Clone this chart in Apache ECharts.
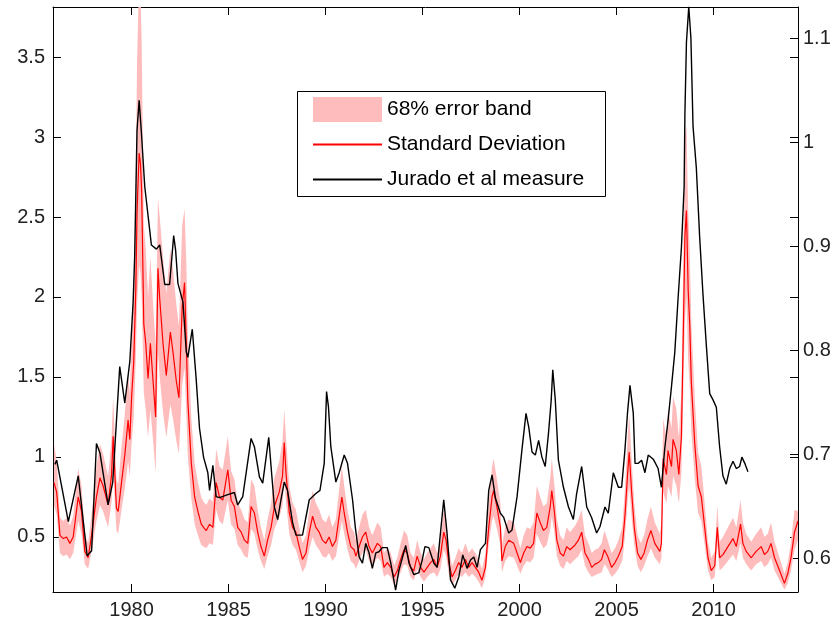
<!DOCTYPE html>
<html>
<head>
<meta charset="utf-8">
<script src="https://cdn.jsdelivr.net/npm/echarts/dist/echarts.min.js"></script>
<style>html,body{margin:0;padding:0;background:#fff;}#chart{width:837px;height:626px;}</style>
</head>
<body>
<div id="chart"></div>
<script>
// ---- Data ----
const xTicks = [1980, 1985, 1990, 1995, 2000, 2005, 2010];
const leftTicks = [0.5, 1, 1.5, 2, 2.5, 3, 3.5];
const rightTicks = [0.6, 0.7, 0.8, 0.9, 1.0, 1.1];

const sdDates = [1976.00,1976.14,1976.31,1976.48,1976.65,1976.82,1976.99,1977.25,1977.42,1977.59,1977.76,1977.94,1978.19,1978.37,1978.53,1978.79,1978.97,1979.05,1979.22,1979.31,1979.48,1979.65,1979.82,1979.91,1980.00,1980.11,1980.22,1980.28,1980.39,1980.46,1980.52,1980.63,1980.73,1980.85,1980.97,1981.11,1981.24,1981.36,1981.45,1981.62,1981.79,1982.00,1982.13,1982.31,1982.44,1982.61,1982.73,1982.82,1982.90,1983.08,1983.25,1983.42,1983.59,1983.71,1983.85,1984.02,1984.19,1984.36,1984.53,1984.70,1984.96,1985.13,1985.30,1985.47,1985.65,1985.82,1985.99,1986.16,1986.33,1986.50,1986.67,1986.84,1987.01,1987.19,1987.36,1987.61,1987.78,1987.87,1987.96,1988.13,1988.30,1988.47,1988.64,1988.81,1988.99,1989.16,1989.33,1989.50,1989.67,1989.84,1990.01,1990.18,1990.35,1990.53,1990.70,1990.84,1990.96,1991.13,1991.30,1991.47,1991.56,1991.73,1991.90,1992.07,1992.24,1992.41,1992.67,1992.84,1993.01,1993.18,1993.36,1993.53,1993.70,1993.87,1994.04,1994.21,1994.38,1994.55,1994.72,1994.90,1995.07,1995.24,1995.41,1995.58,1995.75,1995.92,1996.09,1996.21,1996.35,1996.52,1996.69,1996.86,1997.03,1997.21,1997.38,1997.55,1997.72,1997.89,1998.06,1998.24,1998.41,1998.58,1998.66,1998.83,1999.01,1999.09,1999.26,1999.44,1999.70,1999.87,2000.04,2000.21,2000.38,2000.55,2000.72,2000.89,2001.06,2001.23,2001.40,2001.58,2001.66,2001.80,2001.92,2002.09,2002.26,2002.43,2002.60,2002.86,2003.03,2003.20,2003.37,2003.55,2003.72,2003.89,2004.06,2004.23,2004.37,2004.54,2004.74,2004.92,2005.09,2005.29,2005.43,2005.57,2005.65,2005.77,2005.91,2006.08,2006.25,2006.42,2006.59,2006.77,2006.97,2007.23,2007.31,2007.40,2007.57,2007.65,2007.83,2007.91,2008.08,2008.21,2008.34,2008.43,2008.52,2008.60,2008.69,2008.77,2008.85,2009.03,2009.20,2009.37,2009.54,2009.71,2009.88,2010.06,2010.19,2010.31,2010.48,2010.74,2011.00,2011.17,2011.39,2011.51,2011.68,2011.94,2012.19,2012.45,2012.62,2012.79,2012.96,2013.14,2013.40,2013.65,2013.82,2013.99,2014.17,2014.35];

const sdValues = [0.84,0.78,0.51,0.49,0.50,0.46,0.50,0.75,0.66,0.41,0.37,0.51,0.75,0.87,0.82,0.70,0.89,1.13,0.68,0.66,0.84,1.01,1.23,1.11,1.37,1.59,2.06,2.52,2.90,2.83,2.66,1.83,1.71,1.49,1.71,1.47,1.25,2.18,1.99,1.71,1.51,1.78,1.66,1.47,1.37,1.94,2.09,1.71,1.35,0.96,0.75,0.66,0.58,0.56,0.54,0.58,0.56,0.84,0.75,0.73,0.92,0.73,0.69,0.56,0.53,0.48,0.46,0.69,0.65,0.53,0.44,0.38,0.48,0.56,0.69,0.78,0.88,1.09,0.90,0.65,0.56,0.53,0.44,0.36,0.40,0.53,0.63,0.56,0.53,0.48,0.46,0.50,0.44,0.48,0.63,0.75,0.65,0.53,0.44,0.42,0.38,0.44,0.50,0.53,0.44,0.40,0.46,0.44,0.31,0.34,0.31,0.25,0.29,0.36,0.42,0.40,0.31,0.29,0.38,0.31,0.28,0.31,0.34,0.36,0.31,0.38,0.53,0.48,0.34,0.25,0.29,0.34,0.31,0.36,0.31,0.34,0.31,0.28,0.23,0.31,0.56,0.75,0.79,0.69,0.56,0.35,0.44,0.48,0.46,0.40,0.34,0.40,0.44,0.43,0.46,0.65,0.59,0.54,0.56,0.69,0.79,0.65,0.48,0.40,0.38,0.44,0.42,0.45,0.48,0.53,0.40,0.36,0.31,0.33,0.34,0.36,0.42,0.38,0.31,0.34,0.38,0.44,0.63,0.90,1.03,0.79,0.56,0.40,0.36,0.40,0.48,0.54,0.46,0.41,0.46,0.99,0.89,1.04,0.94,1.11,1.04,0.89,1.13,1.71,2.38,2.54,2.04,1.83,1.47,1.08,0.82,0.75,0.56,0.37,0.29,0.32,0.56,0.37,0.39,0.44,0.49,0.44,0.58,0.46,0.41,0.37,0.41,0.44,0.39,0.41,0.46,0.37,0.29,0.21,0.27,0.37,0.53,0.60];

const bandLow = [0.70,0.64,0.40,0.38,0.39,0.36,0.40,0.60,0.52,0.33,0.30,0.41,0.60,0.70,0.66,0.56,0.72,0.90,0.54,0.52,0.67,0.80,0.97,0.88,1.08,1.25,1.62,1.95,2.20,2.15,2.00,1.40,1.30,1.12,1.30,1.10,0.90,1.65,1.50,1.28,1.12,1.33,1.24,1.10,1.02,1.45,1.56,1.28,1.00,0.74,0.58,0.51,0.45,0.44,0.43,0.46,0.45,0.67,0.60,0.58,0.73,0.58,0.55,0.45,0.42,0.38,0.37,0.55,0.52,0.42,0.35,0.30,0.38,0.45,0.55,0.62,0.70,0.87,0.72,0.52,0.45,0.42,0.35,0.28,0.32,0.42,0.50,0.45,0.42,0.38,0.37,0.40,0.35,0.38,0.50,0.60,0.52,0.42,0.35,0.33,0.30,0.35,0.40,0.42,0.35,0.32,0.37,0.35,0.25,0.27,0.25,0.20,0.23,0.28,0.33,0.32,0.25,0.23,0.30,0.25,0.22,0.25,0.27,0.28,0.25,0.30,0.42,0.38,0.27,0.20,0.23,0.27,0.25,0.28,0.25,0.27,0.25,0.22,0.18,0.25,0.45,0.60,0.63,0.55,0.45,0.28,0.35,0.38,0.37,0.32,0.27,0.32,0.35,0.34,0.37,0.52,0.47,0.43,0.45,0.55,0.63,0.52,0.38,0.32,0.30,0.35,0.33,0.36,0.38,0.42,0.32,0.28,0.25,0.26,0.27,0.28,0.33,0.30,0.25,0.27,0.30,0.35,0.50,0.72,0.82,0.63,0.45,0.32,0.28,0.32,0.38,0.43,0.37,0.33,0.37,0.78,0.71,0.82,0.75,0.88,0.82,0.71,0.90,1.35,1.85,2.00,1.60,1.44,1.16,0.86,0.65,0.60,0.45,0.29,0.23,0.25,0.45,0.29,0.31,0.35,0.39,0.35,0.46,0.37,0.33,0.29,0.33,0.35,0.31,0.33,0.37,0.29,0.23,0.17,0.21,0.29,0.42,0.48];

const bandHigh = [1.08,0.98,0.62,0.60,0.62,0.57,0.63,0.93,0.82,0.52,0.46,0.64,0.94,1.08,1.02,0.88,1.12,1.38,0.86,0.83,1.06,1.27,1.52,1.40,1.72,2.05,2.75,3.45,4.00,3.90,3.60,2.45,2.30,2.00,2.25,1.95,1.70,2.62,2.50,2.25,2.02,2.30,2.18,1.95,1.82,2.45,2.55,2.22,1.78,1.24,0.96,0.84,0.75,0.72,0.70,0.74,0.72,1.05,0.94,0.92,1.13,0.91,0.86,0.71,0.67,0.61,0.59,0.86,0.82,0.67,0.56,0.48,0.61,0.71,0.87,0.97,1.10,1.30,1.12,0.82,0.71,0.67,0.56,0.46,0.51,0.67,0.79,0.71,0.67,0.61,0.59,0.64,0.56,0.61,0.80,0.94,0.82,0.67,0.56,0.53,0.48,0.56,0.64,0.67,0.56,0.51,0.59,0.56,0.40,0.43,0.40,0.32,0.37,0.46,0.54,0.51,0.40,0.37,0.48,0.40,0.36,0.40,0.43,0.46,0.40,0.48,0.67,0.61,0.43,0.32,0.37,0.43,0.40,0.46,0.40,0.43,0.40,0.36,0.30,0.40,0.71,0.94,0.99,0.86,0.71,0.45,0.56,0.61,0.59,0.51,0.43,0.51,0.56,0.55,0.59,0.82,0.75,0.69,0.71,0.87,0.99,0.82,0.61,0.51,0.48,0.56,0.53,0.57,0.61,0.67,0.51,0.46,0.40,0.42,0.43,0.46,0.54,0.48,0.40,0.43,0.48,0.56,0.80,1.12,1.27,0.99,0.71,0.51,0.46,0.51,0.61,0.69,0.59,0.52,0.59,1.24,1.12,1.30,1.18,1.38,1.30,1.12,1.42,2.15,3.00,3.07,2.55,2.28,1.85,1.36,1.03,0.94,0.71,0.47,0.37,0.41,0.70,0.47,0.50,0.56,0.62,0.56,0.73,0.59,0.52,0.47,0.52,0.56,0.50,0.52,0.59,0.47,0.37,0.27,0.34,0.47,0.67,0.66];

const jDates = [1976.05,1976.14,1976.74,1977.25,1977.71,1977.94,1978.19,1978.37,1978.45,1978.79,1979.03,1979.39,1979.65,1979.91,1980.08,1980.16,1980.28,1980.39,1980.51,1980.68,1980.93,1981.02,1981.28,1981.45,1981.71,1981.96,1982.17,1982.27,1982.39,1982.65,1982.82,1982.90,1983.13,1983.33,1983.50,1983.71,1983.93,1984.02,1984.19,1984.36,1984.53,1984.96,1985.30,1985.47,1985.73,1986.16,1986.33,1986.59,1986.76,1987.07,1987.19,1987.36,1987.53,1987.70,1987.87,1988.04,1988.30,1988.47,1988.81,1989.16,1989.50,1989.71,1989.93,1990.05,1990.15,1990.27,1990.53,1990.70,1990.96,1991.13,1991.39,1991.53,1991.73,1991.90,1992.07,1992.24,1992.41,1992.59,1992.75,1992.92,1993.18,1993.36,1993.61,1993.78,1994.13,1994.30,1994.55,1994.81,1994.98,1995.12,1995.32,1995.58,1995.75,1995.92,1996.09,1996.18,1996.26,1996.44,1996.66,1996.87,1997.07,1997.29,1997.47,1997.64,1997.81,1997.98,1998.24,1998.41,1998.58,1998.75,1999.01,1999.18,1999.44,1999.61,1999.87,2000.12,2000.33,2000.47,2000.64,2000.81,2000.98,2001.15,2001.32,2001.49,2001.63,2001.71,2001.84,2002.00,2002.26,2002.52,2002.77,2002.94,2003.20,2003.46,2003.71,2003.97,2004.14,2004.40,2004.57,2004.83,2005.09,2005.26,2005.43,2005.56,2005.69,2005.86,2005.95,2006.12,2006.29,2006.46,2006.63,2006.89,2007.14,2007.31,2007.48,2007.65,2007.83,2008.00,2008.17,2008.34,2008.48,2008.52,2008.60,2008.72,2008.83,2008.94,2009.11,2009.28,2009.45,2009.62,2009.80,2009.97,2010.14,2010.31,2010.48,2010.65,2010.83,2011.00,2011.17,2011.34,2011.46,2011.63,2011.77];

const jValues = [0.690,0.694,0.635,0.679,0.602,0.607,0.710,0.701,0.701,0.651,0.673,0.784,0.749,0.789,0.846,0.890,1.011,1.040,1.008,0.957,0.916,0.901,0.897,0.901,0.863,0.863,0.910,0.896,0.864,0.846,0.798,0.793,0.820,0.772,0.725,0.697,0.682,0.665,0.689,0.659,0.658,0.661,0.663,0.651,0.659,0.715,0.707,0.678,0.672,0.716,0.688,0.649,0.637,0.656,0.673,0.665,0.634,0.622,0.622,0.656,0.662,0.665,0.691,0.760,0.745,0.707,0.673,0.682,0.699,0.691,0.656,0.630,0.601,0.595,0.614,0.605,0.590,0.605,0.606,0.610,0.610,0.595,0.569,0.588,0.612,0.595,0.584,0.586,0.598,0.611,0.610,0.595,0.591,0.624,0.656,0.639,0.624,0.579,0.571,0.582,0.603,0.590,0.598,0.601,0.591,0.608,0.614,0.665,0.680,0.658,0.643,0.639,0.624,0.627,0.659,0.704,0.739,0.726,0.702,0.699,0.713,0.697,0.688,0.720,0.752,0.781,0.752,0.694,0.668,0.649,0.637,0.662,0.688,0.649,0.639,0.624,0.630,0.649,0.643,0.682,0.668,0.668,0.704,0.739,0.766,0.739,0.691,0.691,0.694,0.682,0.699,0.695,0.686,0.668,0.705,0.732,0.765,0.798,0.850,0.898,0.957,1.026,1.096,1.130,1.100,1.015,0.975,0.909,0.854,0.806,0.758,0.752,0.745,0.707,0.679,0.671,0.686,0.693,0.686,0.688,0.697,0.690,0.683];

// ---- Build series data ----
const bandData = sdDates.map((d, i) => [d, bandLow[i], bandHigh[i]]);
const sdData = sdDates.map((d, i) => [d, sdValues[i]]);
const jData = jDates.map((d, i) => [d, jValues[i]]);

const FONT = 'Liberation Sans, Arial, sans-serif';
const BAND = '#ffbcbc';
const axisLineStyle = { color: '#000', width: 1 };

function renderBand(params, api) {
  if (params.dataIndex !== 0) return null;
  const upper = [], lower = [];
  for (let i = 0; i < sdDates.length; i++) {
    upper.push(api.coord([sdDates[i], bandHigh[i]]));
    lower.push(api.coord([sdDates[i], bandLow[i]]));
  }
  const pts = upper.concat(lower.reverse());
  const cs = params.coordSys;
  return {
    type: 'polygon',
    shape: { points: pts },
    style: { fill: BAND, stroke: null },
    clipPath: { type: 'rect', shape: { x: cs.x, y: cs.y, width: cs.width, height: cs.height } },
    silent: true
  };
}

const chart = echarts.init(document.getElementById('chart'), null, { renderer: 'canvas' });
chart.setOption({
  animation: false,
  backgroundColor: '#fff',
  grid: { left: 53, right: 39, top: 7, bottom: 34, containLabel: false },
  xAxis: [
    {
      type: 'value', min: 1975.95, max: 2014.35, position: 'bottom',
      axisLine: { show: true, lineStyle: axisLineStyle },
      axisTick: { show: true, inside: true, length: 8, lineStyle: axisLineStyle, customValues: xTicks },
      axisLabel: { show: true, customValues: xTicks, formatter: v => String(v), fontSize: 20, fontFamily: FONT, color: '#222', margin: 8 },
      splitLine: { show: false }
    },
    {
      type: 'value', min: 1975.95, max: 2014.35, position: 'top',
      axisLine: { show: true, lineStyle: axisLineStyle },
      axisTick: { show: true, inside: true, length: 8, lineStyle: axisLineStyle, customValues: xTicks },
      axisLabel: { show: false },
      splitLine: { show: false }
    }
  ],
  yAxis: [
    {
      type: 'value', min: 0.156, max: 3.8125, position: 'left',
      axisLine: { show: true, lineStyle: axisLineStyle },
      axisTick: { show: true, inside: true, length: 8, lineStyle: axisLineStyle, customValues: leftTicks },
      axisLabel: { show: true, customValues: leftTicks, formatter: v => String(v), fontSize: 20, fontFamily: FONT, color: '#222', margin: 8 },
      splitLine: { show: false }
    },
    {
      type: 'value', min: 0.5673, max: 1.1298, position: 'right',
      axisLine: { show: true, lineStyle: axisLineStyle },
      axisTick: { show: true, inside: true, length: 8, lineStyle: axisLineStyle, customValues: rightTicks },
      axisLabel: { show: true, customValues: rightTicks, formatter: v => String(Math.round(v * 10) / 10), fontSize: 20, fontFamily: FONT, color: '#222', margin: 5 },
      splitLine: { show: false }
    },
    {
      type: 'value', min: 0.156, max: 3.8125, position: 'right',
      axisLine: { show: false },
      axisTick: { show: true, inside: true, length: 8, lineStyle: axisLineStyle, customValues: leftTicks },
      axisLabel: { show: false },
      splitLine: { show: false }
    }
  ],
  legend: {
    orient: 'vertical', left: 312, top: 97, padding: 0,
    itemWidth: 69, itemHeight: 25, itemGap: 10,
    textStyle: { fontSize: 21, fontFamily: FONT, color: '#000', lineHeight: 25 },
    data: [
      { name: '68% error band', icon: 'rect' },
      { name: 'Standard Deviation', itemStyle: { opacity: 0 } },
      { name: 'Jurado et al measure', itemStyle: { opacity: 0 } }
    ],
    selectedMode: false,
    z: 20
  },
  graphic: [
    {
      type: 'rect', z: 10,
      shape: { x: 297.5, y: 91.5, width: 308, height: 105 },
      style: { fill: '#fff', stroke: '#000', lineWidth: 1 }
    }
  ],
  series: [
    {
      name: '68% error band', type: 'custom', xAxisIndex: 0, yAxisIndex: 0,
      data: bandData, encode: { x: 0, y: [1, 2] },
      renderItem: renderBand,
      itemStyle: { color: BAND }, z: 1, silent: true
    },
    {
      name: 'Standard Deviation', type: 'line', xAxisIndex: 0, yAxisIndex: 0,
      data: sdData, symbol: 'none', silent: true,
      itemStyle: { color: '#ff0000' },
      lineStyle: { color: '#ff0000', width: 1.2 }, z: 3
    },
    {
      name: 'Jurado et al measure', type: 'line', xAxisIndex: 0, yAxisIndex: 1,
      data: jData, symbol: 'none', silent: true,
      itemStyle: { color: '#000' },
      lineStyle: { color: '#000', width: 1.4 }, z: 4
    }
  ]
});
</script>
</body>
</html>
